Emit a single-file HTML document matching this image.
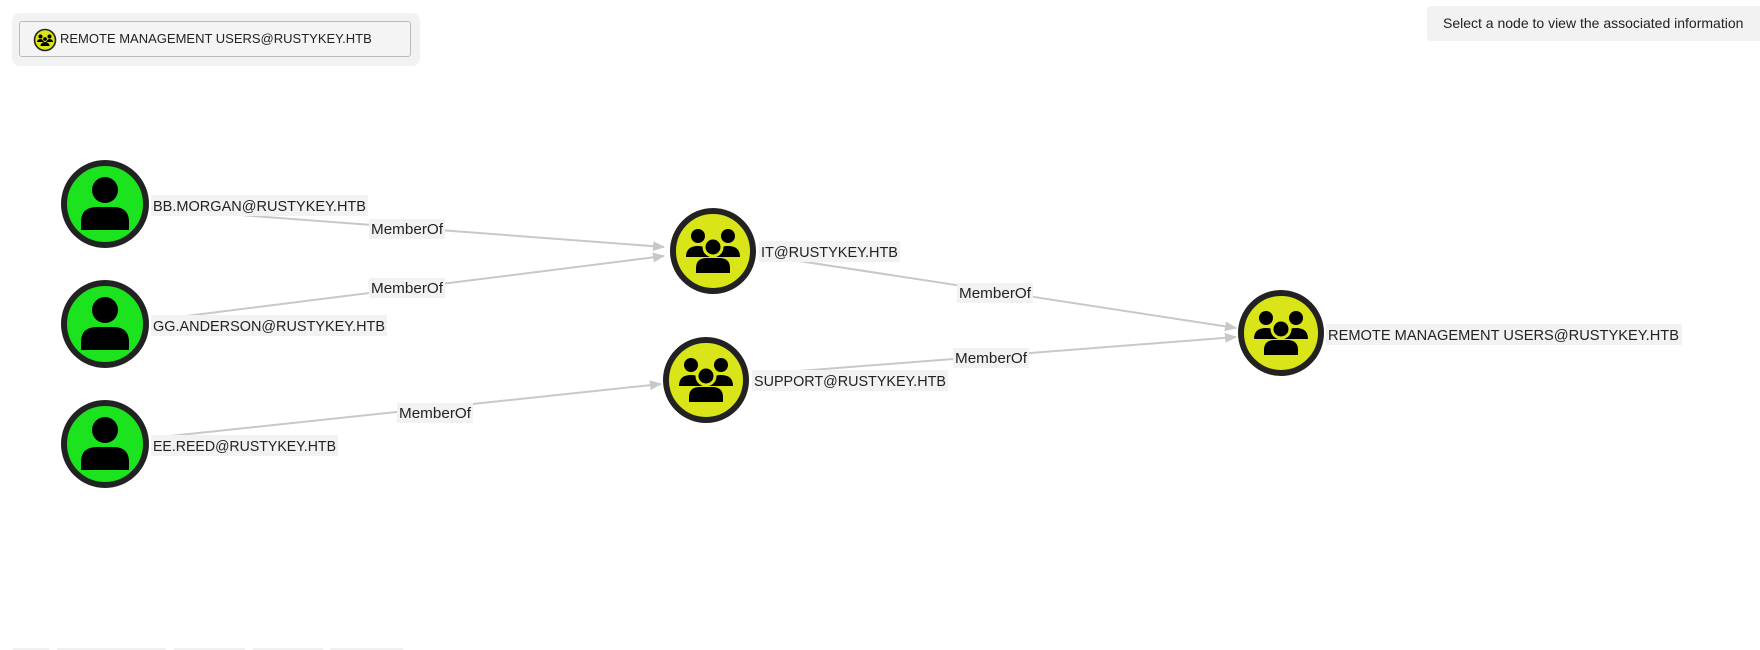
<!DOCTYPE html>
<html><head><meta charset="utf-8"><style>
html,body{margin:0;padding:0;background:#fff;width:1760px;height:650px;overflow:hidden;font-family:"Liberation Sans",sans-serif}
.tl{position:absolute;left:12px;top:13px;width:408px;height:53px;background:#f2f2f2;border-radius:8px}
.btn{position:absolute;left:7px;top:8px;width:392px;height:36px;border:1px solid #bbb;border-radius:3px;background:#f4f4f4;box-sizing:border-box}
.btn span{position:absolute;left:40px;top:9px;font-size:13px;color:#222;white-space:nowrap}
.tr{position:absolute;left:1427px;top:6px;width:333px;height:35px;background:#f2f2f2;border-radius:4px 0 0 4px;font-size:14px;color:#222;line-height:35px;padding-left:16px;box-sizing:border-box;white-space:nowrap}
</style></head><body>
<div class="tl"><div class="btn">
<svg style="position:absolute;left:13px;top:6px" width="24" height="24" viewBox="-12 -12 24 24"><circle r="10.5" fill="#d9e519" stroke="#222" stroke-width="1.6"/><g fill="#000"><circle cx="-4.5" cy="-3.5" r="2"/><circle cx="4.5" cy="-3.5" r="2"/><path d="M-8,2 a3.5,3 0 0 1 7,0z M1,2 a3.5,3 0 0 1 7,0z"/><circle cx="0" cy="-1" r="2.3" stroke="#d9e519" stroke-width=".8"/><path d="M-4.5,6 a4.5,4 0 0 1 9,0z"/></g></svg>
<span>REMOTE MANAGEMENT USERS@RUSTYKEY.HTB</span></div></div>
<div class="tr">Select a node to view the associated information</div>
<svg width="1760" height="650" style="position:absolute;left:0;top:0">
<defs>
<marker id="a" markerWidth="12" markerHeight="10" refX="11" refY="5" orient="auto" markerUnits="userSpaceOnUse"><path d="M0,0 L12,5 L0,10z" fill="#c8c8c8"/></marker>
<g id="user"><circle r="41" fill="#1be41f" stroke="#222" stroke-width="6"/><circle cx="0" cy="-14" r="13" fill="#000"/><path d="M-24,26 L-24,18 Q-24,3 -8,3 L8,3 Q24,3 24,18 L24,26z" fill="#000"/></g>
<g id="grp"><circle r="40" fill="#d9e519" stroke="#222" stroke-width="6"/><g fill="#000"><circle cx="-15" cy="-15" r="7"/><circle cx="15" cy="-15" r="7"/><path d="M-27,6 Q-27,-5 -15,-5 Q-3,-5 -3,6z M3,6 Q3,-5 15,-5 Q27,-5 27,6z"/><circle cx="0" cy="-4" r="9" stroke="#d9e519" stroke-width="3"/><path d="M-17,22 L-17,17 Q-17,7 -6,7 L6,7 Q17,7 17,17 L17,22z"/></g></g>
</defs>
<g stroke="#c8c8c8" stroke-width="2" fill="none" marker-end="url(#a)">
<line x1="200" y1="212" x2="664" y2="247"/>
<line x1="170" y1="318" x2="664" y2="256"/>
<line x1="170" y1="436" x2="661" y2="384"/>
<line x1="760" y1="255" x2="1236" y2="328"/>
<line x1="760" y1="374" x2="1236" y2="337"/>
</g>
<use href="#user" x="105" y="204"/>
<use href="#user" x="105" y="324"/>
<use href="#user" x="105" y="444"/>
<use href="#grp" x="713" y="251"/>
<use href="#grp" x="706" y="380"/>
<use href="#grp" x="1281" y="333"/>
<g font-family="Liberation Sans, sans-serif" font-size="15" fill="#222">
<rect x="151" y="195" width="217" height="21" fill="#f2f2f2"/><text x="153" y="211" textLength="213" lengthAdjust="spacingAndGlyphs">BB.MORGAN@RUSTYKEY.HTB</text>
<rect x="151" y="315" width="236" height="21" fill="#f2f2f2"/><text x="153" y="331" textLength="232" lengthAdjust="spacingAndGlyphs">GG.ANDERSON@RUSTYKEY.HTB</text>
<rect x="151" y="435" width="187" height="21" fill="#f2f2f2"/><text x="153" y="451" textLength="183" lengthAdjust="spacingAndGlyphs">EE.REED@RUSTYKEY.HTB</text>
<rect x="759" y="241" width="141" height="21" fill="#f2f2f2"/><text x="761" y="257" textLength="137" lengthAdjust="spacingAndGlyphs">IT@RUSTYKEY.HTB</text>
<rect x="752" y="370" width="196" height="21" fill="#f2f2f2"/><text x="754" y="386" textLength="192" lengthAdjust="spacingAndGlyphs">SUPPORT@RUSTYKEY.HTB</text>
<rect x="1326" y="324" width="356" height="21" fill="#f2f2f2"/><text x="1328" y="340" textLength="351" lengthAdjust="spacingAndGlyphs">REMOTE MANAGEMENT USERS@RUSTYKEY.HTB</text>
<rect x="369" y="219" width="76" height="20" fill="#f2f2f2"/><text x="371" y="234" textLength="72" lengthAdjust="spacingAndGlyphs">MemberOf</text>
<rect x="369" y="278" width="76" height="20" fill="#f2f2f2"/><text x="371" y="293" textLength="72" lengthAdjust="spacingAndGlyphs">MemberOf</text>
<rect x="397" y="403" width="76" height="20" fill="#f2f2f2"/><text x="399" y="418" textLength="72" lengthAdjust="spacingAndGlyphs">MemberOf</text>
<rect x="957" y="283" width="76" height="20" fill="#f2f2f2"/><text x="959" y="298" textLength="72" lengthAdjust="spacingAndGlyphs">MemberOf</text>
<rect x="953" y="348" width="76" height="20" fill="#f2f2f2"/><text x="955" y="363" textLength="72" lengthAdjust="spacingAndGlyphs">MemberOf</text>
</g>
<g fill="#f0f0f0"><rect x="13" y="648" width="36" height="2"/><rect x="57" y="648" width="109" height="2"/><rect x="174" y="648" width="71" height="2"/><rect x="253" y="648" width="70" height="2"/><rect x="330" y="648" width="73" height="2"/></g>
</svg>
</body></html>
